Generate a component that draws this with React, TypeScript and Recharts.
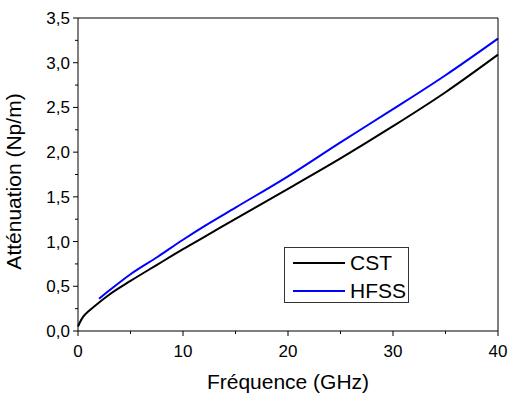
import React from 'react';
import { LineChart, Line, XAxis, YAxis, Legend } from 'recharts';

// courbes (GHz -> Np/m)
const cstFreq = [0, 0.2, 0.5, 1, 1.6, 2.9, 5, 7.6, 10, 12, 15, 20, 25, 30, 35, 40];
const cstAtt = [0.05, 0.1, 0.16, 0.22, 0.28, 0.4, 0.56, 0.745, 0.915, 1.05, 1.255, 1.59, 1.93, 2.29, 2.67, 3.09];

const hfssFreq = [2, 3, 5, 7.6, 10, 12, 15, 20, 25, 30, 35, 40];
const hfssAtt = [0.36, 0.455, 0.635, 0.83, 1.02, 1.17, 1.38, 1.73, 2.11, 2.48, 2.86, 3.27];

const xTicks = [0, 5, 10, 15, 20, 25, 30, 35, 40];
const yTicks = [0, 0.25, 0.5, 0.75, 1, 1.25, 1.5, 1.75, 2, 2.25, 2.5, 2.75, 3, 3.25, 3.5];

const FONT = '"Liberation Sans", Arial, sans-serif';

const cstData = cstFreq.map((f, i) => ({ f, a: cstAtt[i] }));
const hfssData = hfssFreq.map((f, i) => ({ f, a: hfssAtt[i] }));

const isMajorX = (v: number) => v % 10 === 0;
const isMajorY = (v: number) => Math.abs(v * 2 - Math.round(v * 2)) < 1e-6;
const fmtY = (v: number) => v.toFixed(1).replace('.', ',');

const LeftTick = ({ x, y, payload }: any) => {
  const major = isMajorY(payload.value);
  return (
    <g>
      <line x1={x - (major ? 5 : 3)} x2={x} y1={y} y2={y} stroke="#000" />
      {major && (
        <text x={x - 8} y={y + 6} textAnchor="end" fontSize={17} fontFamily={FONT} fill="#000">
          {fmtY(payload.value)}
        </text>
      )}
    </g>
  );
};

const RightTick = ({ x, y, payload }: any) => {
  const major = isMajorY(payload.value);
  return <line x1={x - (major ? 5 : 3)} x2={x} y1={y} y2={y} stroke="#000" />;
};

const BottomTick = ({ x, y, payload }: any) => {
  const major = isMajorX(payload.value);
  return (
    <g>
      <line x1={x} x2={x} y1={y} y2={y + (major ? 5 : 3)} stroke="#000" />
      {major && (
        <text x={x} y={y + 26} textAnchor="middle" fontSize={17} fontFamily={FONT} fill="#000">
          {payload.value}
        </text>
      )}
    </g>
  );
};

const TopTick = ({ x, y, payload }: any) => {
  const major = isMajorX(payload.value);
  return <line x1={x} x2={x} y1={y} y2={y + (major ? 5 : 3)} stroke="#000" />;
};

const renderLegend = (props: any) => {
  const { payload } = props;
  return (
    <div
      style={{
        width: 125,
        height: 56,
        border: '1px solid #333',
        boxSizing: 'border-box',
        background: '#fff',
        position: 'relative',
        fontFamily: FONT,
        fontSize: 21,
        color: '#000',
      }}
    >
      {payload.map((entry: any, i: number) => (
        <div
          key={entry.value}
          style={{ position: 'absolute', left: 8, top: 2 + i * 28, height: 26, display: 'flex', alignItems: 'center' }}
        >
          <span style={{ display: 'inline-block', width: 52, height: 2, background: entry.color, marginRight: 5 }} />
          <span style={{ lineHeight: '26px' }}>{entry.value}</span>
        </div>
      ))}
    </div>
  );
};

export default function App() {
  return (
    <div style={{ position: 'absolute', left: 0, top: 0, width: 508, height: 394, background: '#fff' }}>
      <LineChart width={508} height={394} margin={{ top: 18, right: 10, bottom: 0, left: 0 }}>
        <XAxis
          xAxisId="bottom"
          dataKey="f"
          type="number"
          domain={[0, 40]}
          ticks={xTicks}
          interval={0}
          height={63}
          tickSize={0}
          tickMargin={0}
          tick={<BottomTick />}
          axisLine={{ stroke: '#000' }}
          label={{
            content: (p: any) => (
              <text
                x={p.viewBox.x + p.viewBox.width / 2}
                y={p.viewBox.y + 58}
                textAnchor="middle"
                fontSize={21}
                fontFamily={FONT}
                fill="#000"
              >
                Fréquence (GHz)
              </text>
            ),
          }}
        />
        <XAxis
          xAxisId="top"
          orientation="top"
          mirror
          dataKey="f"
          type="number"
          domain={[0, 40]}
          ticks={xTicks}
          interval={0}
          height={10}
          tickSize={0}
          tickMargin={0}
          tick={<TopTick />}
          axisLine={{ stroke: '#000' }}
        />
        <YAxis
          yAxisId="left"
          type="number"
          domain={[0, 3.5]}
          ticks={yTicks}
          interval={0}
          width={78}
          tickSize={0}
          tickMargin={0}
          tick={<LeftTick />}
          axisLine={{ stroke: '#000' }}
          label={{
            content: (p: any) => {
              const cx = p.viewBox.x + 21;
              const cy = p.viewBox.y + p.viewBox.height / 2 + 7;
              return (
                <text
                  x={cx}
                  y={cy}
                  transform={`rotate(-90 ${cx} ${cy})`}
                  textAnchor="middle"
                  fontSize={21}
                  fontFamily={FONT}
                  fill="#000"
                >
                  Atténuation (Np/m)
                </text>
              );
            },
          }}
        />
        <YAxis
          yAxisId="right"
          orientation="right"
          mirror
          type="number"
          domain={[0, 3.5]}
          ticks={yTicks}
          interval={0}
          width={10}
          tickSize={0}
          tickMargin={0}
          tick={<RightTick />}
          axisLine={{ stroke: '#000' }}
        />
        <Legend
          layout="vertical"
          align="center"
          verticalAlign="middle"
          content={renderLegend}
          wrapperStyle={{ left: 284, top: 247, width: 125, height: 56 }}
        />
        <Line
          xAxisId="bottom"
          yAxisId="left"
          data={cstData}
          dataKey="a"
          name="CST"
          type="monotone"
          stroke="#000000"
          strokeWidth={2}
          dot={false}
          isAnimationActive={false}
        />
        <Line
          xAxisId="bottom"
          yAxisId="left"
          data={hfssData}
          dataKey="a"
          name="HFSS"
          type="monotone"
          stroke="#0000ff"
          strokeWidth={2}
          dot={false}
          isAnimationActive={false}
        />
      </LineChart>
    </div>
  );
}
